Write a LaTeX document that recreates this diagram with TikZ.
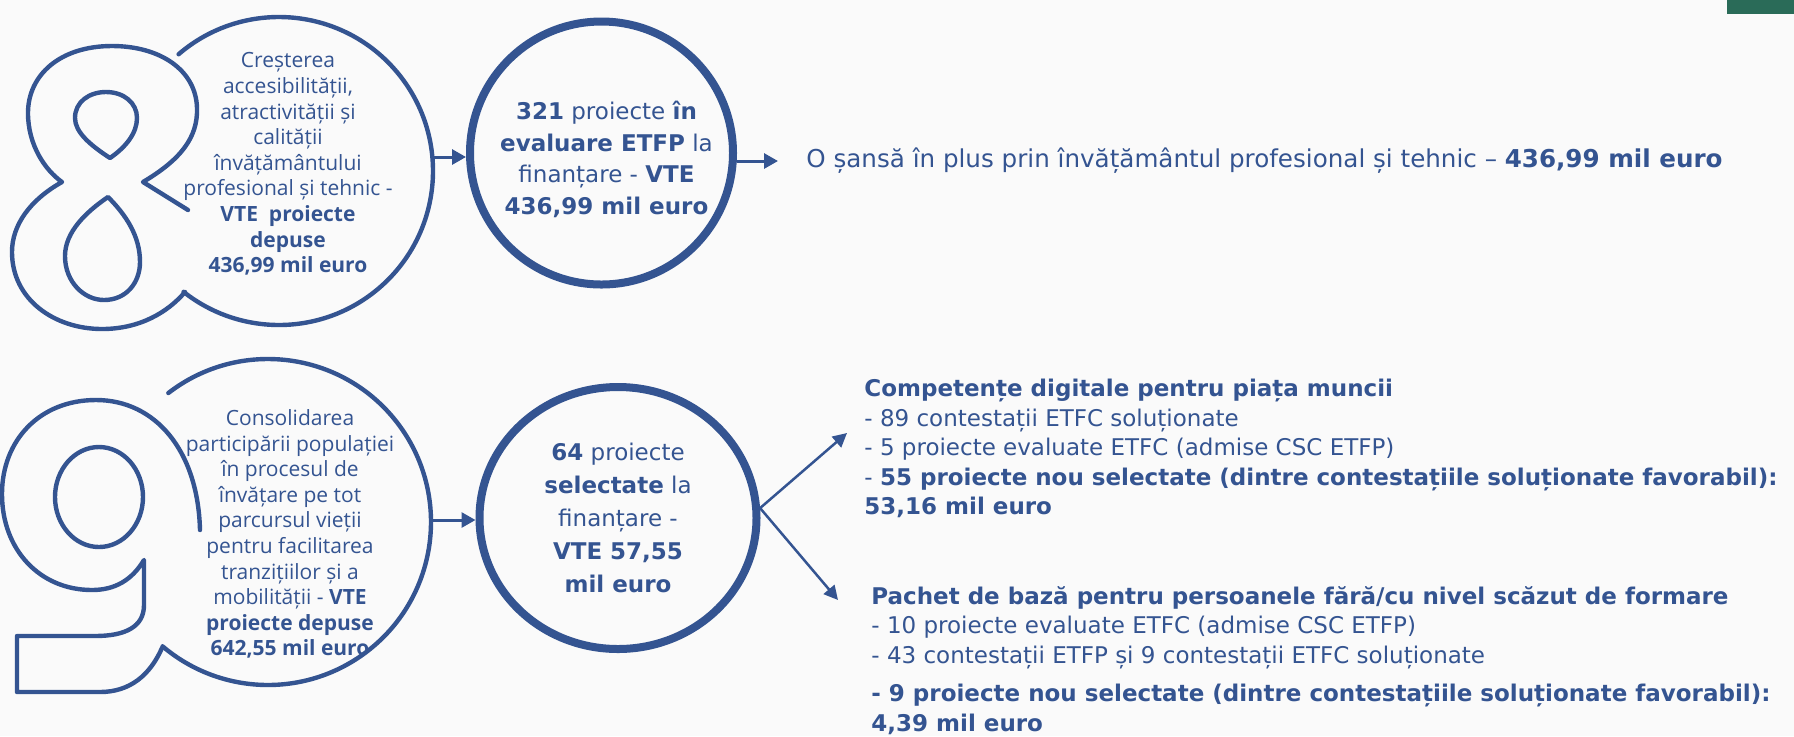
\documentclass[tikz,border=0pt]{standalone}
\usepackage{fontspec}
\setmainfont{DejaVu Sans}
\newfontfamily\opensans{Open Sans}
\usetikzlibrary{arrows.meta,shapes.geometric}
\definecolor{navy}{RGB}{52,84,145}
\definecolor{bggrey}{RGB}{250,250,250}
\definecolor{tabgreen}{RGB}{42,107,88}
\tikzset{
  blob/.style={draw=navy,line width=2.2pt},
  ring/.style={draw=navy,line width=4pt,fill=bggrey,text=navy,align=center,inner sep=0pt},
  ringtext/.style={text=navy,align=center,inner sep=0pt},
  arr/.style={draw=navy,line width=1.5pt,-{Triangle[length=7pt,width=7.5pt]}},
  arrthin/.style={draw=navy,line width=1.25pt,-{Triangle[length=7pt,width=7pt]}},
  blobtext/.style={text=navy,align=center,font=\opensans\fontsize{10.5}{12.8}\selectfont},
  info/.style={text=navy,align=left,inner sep=0pt,font=\fontsize{11.5}{14.75}\selectfont}
}
\begin{document}
\begin{tikzpicture}[x=0.5pt,y=-0.5pt,line join=round,line cap=round]
	\def\rb{154}
	\def\rn{163}
	\useasboundingbox (0,0) rectangle (1794,736);
	\fill[bggrey] (0,0) rectangle (1794,736);
	\fill[tabgreen] (1727,0) rectangle (1794,14);
	\path
	(279,171) coordinate (m8)
	(268,522) coordinate (m9)
	(433,157) coordinate (e8)
	(431,520) coordinate (e9)
	(847,433) coordinate (ua)
	(838,600) coordinate (la);
	% eight
	\draw[blob] (188,210) -- (143,182) .. controls (180,160) and (198,138) .. (197,108)
		.. controls (196,70) and (160,46) .. (112,46) .. controls (60,46) and (28,75) .. (28,113)
		.. controls (28,145) and (45,170) .. (62,182) .. controls (30,200) and (12,225) .. (12,252)
		.. controls (12,300) and (55,329) .. (102,329) .. controls (140,329) and (168,312) .. (185,292);
	\draw[blob] (110,158) .. controls (90,145) and (75,132) .. (75,118) .. controls (75,102) and (89,92) .. (106,92)
		.. controls (124,92) and (137,103) .. (137,118) .. controls (137,133) and (126,147) .. (110,158) -- cycle;
	\draw[blob] (108,197) .. controls (86,212) and (65,232) .. (65,256) .. controls (65,282) and (84,300) .. (104,300)
		.. controls (126,300) and (140,283) .. (140,262) .. controls (140,236) and (126,215) .. (108,197) -- cycle;
	\draw[blob] (m8) ++(-130.7:\rb) arc[start angle=-130.7,end angle=128.3,radius=\rb];
	% nine
	\draw[blob] (200,530) .. controls (198,450) and (155,400) .. (96,400) .. controls (40,400) and (2,440) .. (2,494)
		.. controls (2,550) and (40,590) .. (92,590) .. controls (115,590) and (132,580) .. (144,560)
		-- (144,605) .. controls (144,627) and (125,636) .. (95,636) -- (17,636) -- (17,692) -- (100,692)
		.. controls (130,692) and (150,675) .. (162,648);
	\draw[blob] (99,497) ellipse[x radius=44,y radius=50];
	\draw[blob] (m9) ++(-127.7:\rn) arc[start angle=-127.7,end angle=130.3,radius=\rn];
	\node[blobtext] (t8) at (288,164) {Creșterea\\accesibilității,\\atractivității și\\calității\\învățământului\\profesional și tehnic -\\\textbf{VTE\ \ proiecte}\\\textbf{depuse}\\\textbf{436,99 mil euro}};
	\node[blobtext] (t9) at (290,534) {Consolidarea\\participării populației\\în procesul de\\învățare pe tot\\parcursul vieții\\pentru facilitarea\\tranzițiilor și a\\mobilității - \textbf{VTE}\\\textbf{proiecte depuse}\\\textbf{642,55 mil euro}};
	% circles
	\node[ring,circle,minimum size=131.5pt] (c8) at (601.5,153) {};
	\node[ringtext,font=\fontsize{11.5}{15.8}\selectfont] (c8t) at (606.5,159.5)
		{\textbf{321} proiecte \textbf{în}\\\textbf{evaluare ETFP} la\\finanțare - \textbf{VTE}\\\textbf{436,99 mil euro}};
	\node[ring,ellipse,minimum width=138.5pt,minimum height=131pt,font=\fontsize{11.5}{16.6}\selectfont] (c9) at (618,518)
		{\textbf{64} proiecte\\\textbf{selectate} la\\finanțare -\\\textbf{VTE 57,55}\\\textbf{mil euro}};
	% texts on the right
	\node[info,anchor=west,font=\fontsize{12.3}{14.75}\selectfont] (o8) at (806,161) {O șansă în plus prin învățământul profesional și tehnic – \textbf{436,99 mil euro}};
	\node[info,anchor=north west] (d9) at (864,379) {\textbf{Competențe digitale pentru piața muncii}\\- 89 contestații ETFC soluționate\\- 5 proiecte evaluate ETFC (admise CSC ETFP)\\- \textbf{55 proiecte nou selectate (dintre contestațiile soluționate favorabil):}\\\textbf{53,16 mil euro}};
	\node[info,anchor=north west] (p9) at (871,586) {\textbf{Pachet de bază pentru persoanele fără/cu nivel scăzut de formare}\\- 10 proiecte evaluate ETFC (admise CSC ETFP)\\- 43 contestații ETFP și 9 contestații ETFC soluționate\\[4.5pt]\textbf{- 9 proiecte nou selectate (dintre contestațiile soluționate favorabil):}\\\textbf{4,39 mil euro}};
	% arrows
	\draw[arr] (e8) -- (e8 -| c8.west);
	\draw[arr,shorten >=14pt] (o8.west -| c8.east) -- (o8.west);
	\draw[arr] (e9) -- (e9 -| c9.west);
	\draw[arrthin] (c9.4) -- (ua);
	\draw[arrthin] (c9.4) -- (la);
\end{tikzpicture}
\end{document}
